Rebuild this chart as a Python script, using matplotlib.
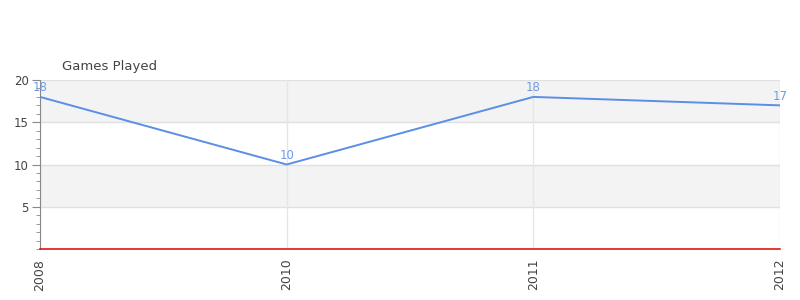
import matplotlib
matplotlib.use('Agg')
import matplotlib.pyplot as plt
from matplotlib.ticker import MultipleLocator

years = ['2008', '2010', '2011', '2012']
games = [18, 10, 18, 17]

fig = plt.figure(figsize=(8, 3), dpi=100)
ax = fig.add_axes([0.05, 0.17, 0.925, 0.5633])

x = list(range(len(years)))

# alternating bands
for lo, hi in [(15, 20), (5, 10)]:
    ax.axhspan(lo, hi, color='#f3f3f3', zorder=0, lw=0)
for y in [5, 10, 15, 20]:
    ax.axhline(y, color='#e0e0e0', lw=1, zorder=1)
for xi in x:
    ax.axvline(xi, color='#e6e6e6', lw=1, zorder=1)

ax.plot(x, games, color='#5b8ee6', lw=1.4, zorder=3)
for xi, v in zip(x, games):
    ax.text(xi, v + 0.3, str(v), color='#6f9ae8', fontsize=8.5, ha='center', va='bottom', zorder=4)

ax.axhline(0, color='#dd0000', lw=1.1, zorder=5, clip_on=False)

ax.set_xlim(0, len(years) - 1)
ax.set_ylim(0, 20)
ax.set_xticks(x)
ax.set_xticklabels(years, rotation=90, fontsize=9, color='#444444')
ax.set_yticks([5, 10, 15, 20])
ax.yaxis.set_minor_locator(MultipleLocator(1))
ax.tick_params(axis='y', which='major', length=6, color='#888888', labelsize=8.5, labelcolor='#444444', pad=2)
ax.tick_params(axis='y', which='minor', length=3, color='#888888')
ax.tick_params(axis='x', length=0, pad=7)

for s in ['top', 'right', 'bottom']:
    ax.spines[s].set_visible(False)
ax.spines['left'].set_color('#888888')

fig.text(0.0775, 0.777, 'Games Played', fontsize=9.5, color='#444444', ha='left', va='center')

fig.savefig('out.png', dpi=100)
